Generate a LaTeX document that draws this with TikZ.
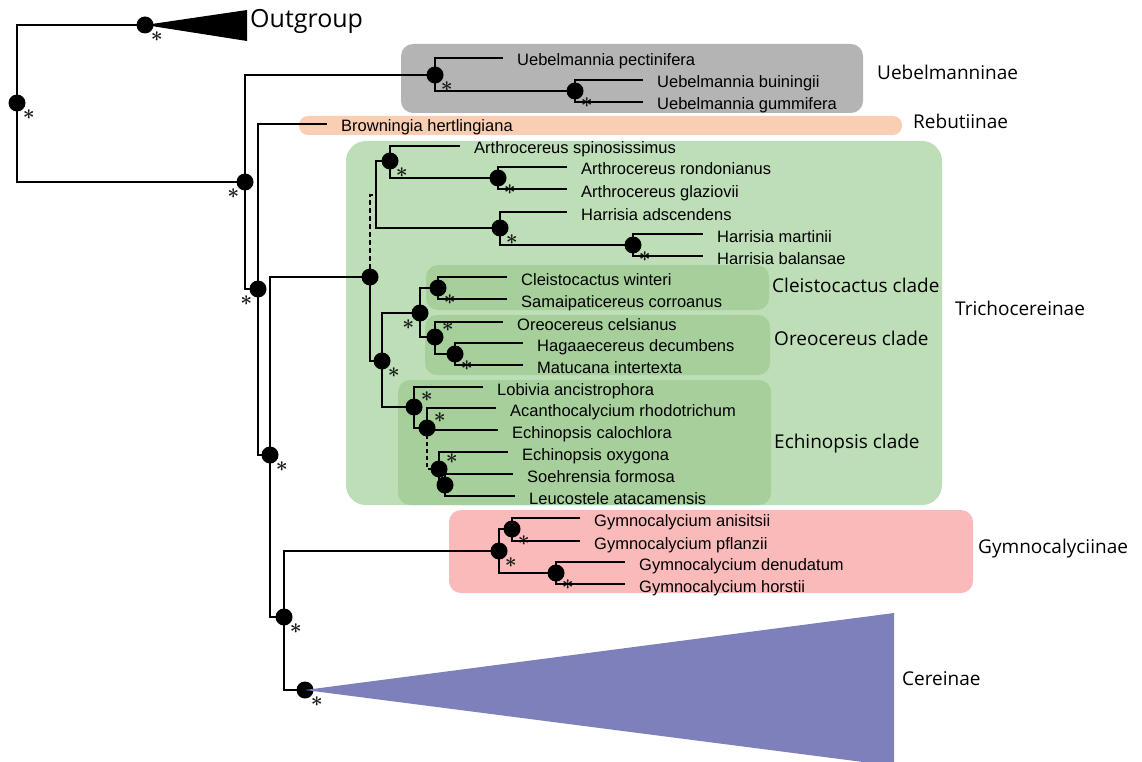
\documentclass[tikz,border=0pt]{standalone}
\usepackage{fontspec}
\setmainfont{Liberation Sans}
\newfontfamily\cladefont{Open Sans}
\usetikzlibrary{positioning}
\definecolor{ubgrey}{RGB}{180,180,180}
\definecolor{rborange}{RGB}{249,206,178}
\definecolor{trgreen}{RGB}{190,222,184}
\definecolor{sbgreen}{RGB}{166,207,155}
\definecolor{gmpink}{RGB}{250,186,186}
\definecolor{crblue}{RGB}{126,128,188}

\begin{document}
\begin{tikzpicture}[
  x=1pt, y=-1pt,
  br/.style={line width=1.3pt, draw=black},
  dot/.style={circle, fill=black, minimum size=17pt, inner sep=0pt},
  ast/.style={font=\fontsize{22}{22}\selectfont\boldmath, inner sep=0pt, text=black!90},
  sr/.style={label={[ast]-50:$\ast$}},
  sl/.style={label={[ast]-130:$\ast$}},
  nr/.style={label={[ast]40:$\ast$}},
  leaf/.style={anchor=base west, xshift=14pt, yshift=-8pt, inner sep=0pt, font=\fontsize{16.5}{18}\selectfont},
  grp/.style={anchor=mid west, inner sep=0pt, font=\cladefont\fontsize{19}{21}\selectfont},
  box/.style={rounded corners=12pt}
]
\useasboundingbox (0,0) rectangle (1142,762);

% clade boxes
\fill[ubgrey, box] (401,44) rectangle (863,113);
\fill[rborange, rounded corners=9pt] (299,116) rectangle (902,135);
\fill[trgreen, rounded corners=20pt] (346,141) rectangle (942,505);
\fill[sbgreen, box] (426,265) rectangle (769,310);
\fill[sbgreen, box] (425,315) rectangle (770,375);
\fill[sbgreen, box] (398,380) rectangle (771,505);
\fill[gmpink, box] (449,510) rectangle (973,593);

% backbone
\node[dot, sr] (rt) at (17,103) {};
\node[dot, sr] (og) at (145,25) {};
\node[dot, sl] (na) at (245,182) {};
\node[dot, sl] (nb) at (258,289) {};
\node[dot, sr] (nc) at (270,455) {};
\node[dot, sr] (nd) at (284,617) {};
\node[dot, sr] (ce) at (305,690) {};
\coordinate (bw) at (327,124);

\fill (og.center) -- (247,10) -- (247,41) -- cycle;
\fill[crblue] (ce.center) -- (894,613) -- (894,766) -- cycle;

\draw[br] (rt.center) |- (og.center);
\draw[br] (rt.center) |- (na.center);
\draw[br] (nb.center) |- (bw);
\draw[br] (nb.center) |- (nc.center);
\draw[br] (nd.center) |- (ce.center);

% Uebelmanninae
\node[dot, sr] (ub) at (435,75) {};
\node[dot, sr] (ub2) at (575,91) {};
\coordinate (u1) at (503,58);
\coordinate (u2) at (643,80);
\coordinate (u3) at (643,102);
\draw[br] (na.center) |- (ub.center);
\draw[br] (na.center) |- (nb.center);
\draw[br] (ub.center) |- (u1);
\draw[br] (ub.center) |- (ub2.center);
\draw[br] (ub2.center) |- (u2);
\draw[br] (ub2.center) |- (u3);

% Trichocereinae
\node[dot] (tr) at (370,277) {};
\coordinate (ah) at (376,195);
\node[dot, sr] (ar) at (390,161) {};
\node[dot, sr] (ar2) at (498,178) {};
\node[dot, sr] (hr) at (500,228) {};
\node[dot, sr] (hr2) at (633,245) {};
\coordinate (a1) at (460,146);
\coordinate (a2) at (567,167);
\coordinate (a3) at (567,189);
\coordinate (h1) at (567,212);
\coordinate (h2) at (703,234);
\coordinate (h3) at (703,256);
\draw[br] (nc.center) |- (tr.center);
\draw[br] (nc.center) |- (nd.center);
\draw[br, dash pattern=on 5pt off 3pt] (tr.center) |- (ah);
\draw[br] (ah) |- (ar.center);
\draw[br] (ah) |- (hr.center);
\draw[br] (ar.center) |- (a1);
\draw[br] (ar.center) |- (ar2.center);
\draw[br] (ar2.center) |- (a2);
\draw[br] (ar2.center) |- (a3);
\draw[br] (hr.center) |- (h1);
\draw[br] (hr.center) |- (hr2.center);
\draw[br] (hr2.center) |- (h2);
\draw[br] (hr2.center) |- (h3);

\node[dot, sr] (cx) at (382,361) {};
\node[dot, sl] (co) at (420,313) {};
\node[dot, sr] (cl) at (438,288) {};
\node[dot, nr] (oc) at (435,337) {};
\node[dot, sr] (hg) at (455,354) {};
\coordinate (c1) at (507,277);
\coordinate (c2) at (507,299);
\coordinate (o1) at (503,322);
\coordinate (o2) at (523,343);
\coordinate (o3) at (523,365);
\draw[br] (tr.center) |- (cx.center);
\draw[br] (cx.center) |- (co.center);
\draw[br] (co.center) |- (cl.center);
\draw[br] (co.center) |- (oc.center);
\draw[br] (cl.center) |- (c1);
\draw[br] (cl.center) |- (c2);
\draw[br] (oc.center) |- (o1);
\draw[br] (oc.center) |- (hg.center);
\draw[br] (hg.center) |- (o2);
\draw[br] (hg.center) |- (o3);

\node[dot, nr] (ec) at (414,407) {};
\node[dot, nr] (ec2) at (427,428) {};
\node[dot, nr] (ec3) at (439,469) {};
\node[dot] (ec4) at (445,485) {};
\coordinate (e1) at (483,387);
\coordinate (e2) at (496,408);
\coordinate (e3) at (498,430);
\coordinate (e4) at (508,452);
\coordinate (e5) at (513,474);
\coordinate (e6) at (515,496);
\draw[br] (cx.center) |- (ec.center);
\draw[br] (ec.center) |- (e1);
\draw[br] (ec.center) |- (ec2.center);
\draw[br] (ec2.center) |- (e2);
\draw[br] (ec2.center) |- (e3);
\draw[br, dash pattern=on 4pt off 3pt] (ec2.center) |- (ec3.center);
\draw[br] (ec3.center) |- (e4);
\draw[br] (ec3.center) |- (ec4.center);
\draw[br] (ec4.center) |- (e5);
\draw[br] (ec4.center) |- (e6);

% Gymnocalyciinae
\node[dot, sr] (gm) at (499,551) {};
\node[dot, sr] (gm1) at (512,529) {};
\node[dot, sr] (gm2) at (556,573) {};
\coordinate (g1) at (580,518);
\coordinate (g2) at (580,541);
\coordinate (g3) at (625,562);
\coordinate (g4) at (625,584);
\draw[br] (nd.center) |- (gm.center);
\draw[br] (gm.center) |- (gm1.center);
\draw[br] (gm.center) |- (gm2.center);
\draw[br] (gm1.center) |- (g1);
\draw[br] (gm1.center) |- (g2);
\draw[br] (gm2.center) |- (g3);
\draw[br] (gm2.center) |- (g4);

% species
\node[leaf] (lbw) at (bw) {Browningia hertlingiana};
\node[leaf] (lu1) at (u1) {Uebelmannia pectinifera};
\node[leaf] (lu2) at (u2) {Uebelmannia buiningii};
\node[leaf] (lu3) at (u3) {Uebelmannia gummifera};
\node[leaf] (la1) at (a1) {Arthrocereus spinosissimus};
\node[leaf] (la2) at (a2) {Arthrocereus rondonianus};
\node[leaf] (la3) at (a3) {Arthrocereus glaziovii};
\node[leaf] (lh1) at (h1) {Harrisia adscendens};
\node[leaf] (lh2) at (h2) {Harrisia martinii};
\node[leaf] (lh3) at (h3) {Harrisia balansae};
\node[leaf] (lc1) at (c1) {Cleistocactus winteri};
\node[leaf] (lc2) at (c2) {Samaipaticereus corroanus};
\node[leaf] (lo1) at (o1) {Oreocereus celsianus};
\node[leaf] (lo2) at (o2) {Hagaaecereus decumbens};
\node[leaf] (lo3) at (o3) {Matucana intertexta};
\node[leaf] (le1) at (e1) {Lobivia ancistrophora};
\node[leaf] (le2) at (e2) {Acanthocalycium rhodotrichum};
\node[leaf] (le3) at (e3) {Echinopsis calochlora};
\node[leaf] (le4) at (e4) {Echinopsis oxygona};
\node[leaf] (le5) at (e5) {Soehrensia formosa};
\node[leaf] (le6) at (e6) {Leucostele atacamensis};
\node[leaf] (lg1) at (g1) {Gymnocalycium anisitsii};
\node[leaf] (lg2) at (g2) {Gymnocalycium pflanzii};
\node[leaf] (lg3) at (g3) {Gymnocalycium denudatum};
\node[leaf] (lg4) at (g4) {Gymnocalycium horstii};

% group names
\node[grp, font=\cladefont\fontsize{25}{27}\selectfont] (tog) at (250,25) {Outgroup};
\node[grp] (tub) at (877,77) {Uebelmanninae};
\node[grp] (trb) at (913,126) {Rebutiinae};
\node[grp] (ttr) at (955,313) {Trichocereinae};
\node[grp] (tcl) at (772,290) {Cleistocactus clade};
\node[grp] (toc) at (774,343) {Oreocereus clade};
\node[grp] (tec) at (774,446) {Echinopsis clade};
\node[grp] (tgm) at (978,551) {Gymnocalyciinae};
\node[grp] (tce) at (902,683) {Cereinae};
\end{tikzpicture}
\end{document}
